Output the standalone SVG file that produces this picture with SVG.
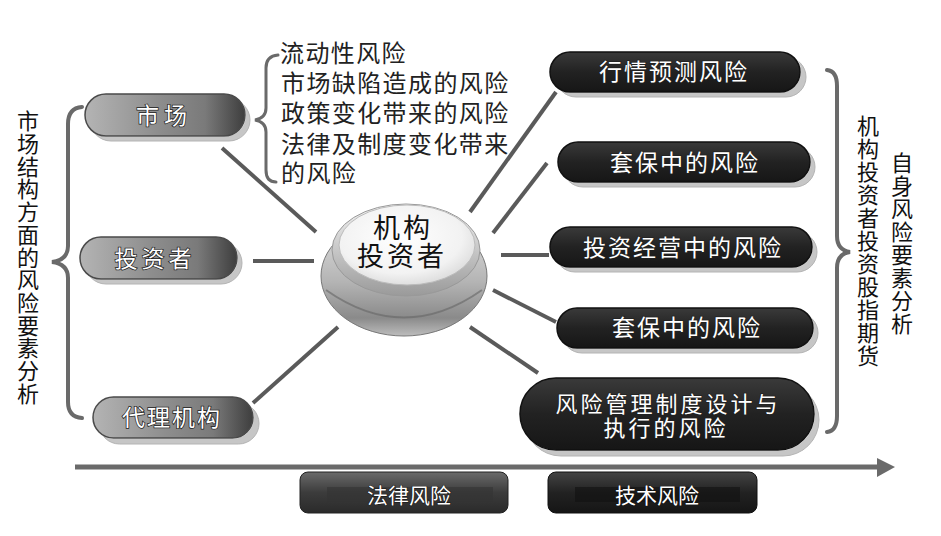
<svg xmlns="http://www.w3.org/2000/svg" width="941" height="536" viewBox="0 0 941 536">
<defs>
<linearGradient id="gLeft" x1="0" y1="0" x2="1" y2="0">
<stop offset="0" stop-color="#b4b4b4"/><stop offset="0.45" stop-color="#8e8e8e"/><stop offset="0.75" stop-color="#7a7a7a"/><stop offset="1" stop-color="#3e3e3e"/>
</linearGradient>
<linearGradient id="gRight" x1="0" y1="0" x2="0" y2="1">
<stop offset="0" stop-color="#3a3a3a"/><stop offset="0.5" stop-color="#222"/><stop offset="1" stop-color="#161616"/>
</linearGradient>
<linearGradient id="gBox1" x1="0" y1="0" x2="0" y2="1">
<stop offset="0" stop-color="#6a6a6a"/><stop offset="0.5" stop-color="#3c3c3c"/><stop offset="1" stop-color="#2a2a2a"/>
</linearGradient>
<linearGradient id="gBox2" x1="0" y1="0" x2="0" y2="1">
<stop offset="0" stop-color="#444"/><stop offset="0.5" stop-color="#222"/><stop offset="1" stop-color="#151515"/>
</linearGradient>
<linearGradient id="gBase" x1="0" y1="0" x2="0" y2="1">
<stop offset="0" stop-color="#e4e4e4"/><stop offset="0.55" stop-color="#b4b4b4"/><stop offset="0.85" stop-color="#8a8a8a"/><stop offset="1" stop-color="#bdbdbd"/>
</linearGradient>
<linearGradient id="gRim" x1="0" y1="0" x2="0" y2="1">
<stop offset="0" stop-color="#f4f4f4"/><stop offset="1" stop-color="#9a9a9a"/>
</linearGradient>
<radialGradient id="gTop" cx="0.45" cy="0.4" r="0.65">
<stop offset="0" stop-color="#ffffff"/><stop offset="0.7" stop-color="#f2f2f2"/><stop offset="1" stop-color="#d8d8d8"/>
</radialGradient>
</defs>
<style>
.conn{stroke:#5a5a5a;stroke-width:4;fill:none;stroke-linecap:butt}
.brace{stroke:#6a6a6a;stroke-width:4;fill:none;stroke-linecap:round}
.shadow{fill:#c6c6c6;stroke:#b4b4b4;stroke-width:1}
.lpill{fill:url(#gLeft);stroke:#4a4a4a;stroke-width:1.5}
.rpill{fill:url(#gRight);stroke:#111;stroke-width:1.5}
.gap{fill:#fff}
.pt{font-family:"Noto Sans CJK SC","Noto Sans",sans-serif;font-size:23px;fill:#fff;stroke:#222;stroke-width:1.5;paint-order:stroke;text-anchor:middle;letter-spacing:2px}
.bt{font-family:"Noto Sans CJK SC","Noto Sans",sans-serif;font-size:21px;fill:#fff;stroke:#111;stroke-width:1;paint-order:stroke;text-anchor:middle}
.vt{font-family:"Noto Sans CJK SC","Noto Sans",sans-serif;font-size:22px;fill:#111;writing-mode:vertical-rl}
.lt{font-family:"Noto Sans CJK SC","Noto Sans",sans-serif;font-size:24px;fill:#222;letter-spacing:1.4px}
.ct{font-family:"Noto Sans CJK SC","Noto Sans",sans-serif;font-size:27px;fill:#111;text-anchor:middle;letter-spacing:3px}
</style>

<rect width="941" height="536" fill="#fff"/>

<g id="connectors">
<line class="conn" x1="222" y1="148" x2="316" y2="232"/>
<line class="conn" x1="253" y1="261" x2="314" y2="261"/>
<line class="conn" x1="253" y1="403" x2="338" y2="327"/>
<line class="conn" x1="470" y1="212" x2="556" y2="92"/>
<line class="conn" x1="493" y1="233" x2="547" y2="163"/>
<line class="conn" x1="501" y1="255" x2="549" y2="255"/>
<line class="conn" x1="493" y1="290" x2="556" y2="322"/>
<line class="conn" x1="470" y1="327" x2="538" y2="373"/>
<path class="brace" d="M82,107 Q68,108 68,124 L68,246 Q68,260 52,262 Q68,264 68,278 L68,402 Q68,417 82,418"/>
<path class="brace" d="M278,55 Q266,56 266,68 L266,108 Q266,118 255,120 Q266,122 266,132 L266,170 Q266,182 276,182" style="stroke-width:3"/>
<path class="brace" d="M827,70 Q837,71 837,86 L837,236 Q837,250 850,252 Q837,254 837,268 L837,416 Q837,431 827,432"/>
<line x1="75" y1="467" x2="878" y2="467" stroke="#6a6a6a" stroke-width="5"/>
<polygon points="877,458 895,467 877,477" fill="#6a6a6a"/>
</g>

<g id="label-left">
<text class="vt" x="28" y="110" style="letter-spacing:0.7px">市场结构方面的风险要素分析</text>
</g>
<g id="label-right1">
<text class="vt" x="868" y="115" style="letter-spacing:1px">机构投资者投资股指期货</text>
</g>
<g id="label-right2">
<text class="vt" x="902" y="152" style="letter-spacing:1px">自身风险要素分析</text>
</g>

<g id="market-risks">
<text class="lt" x="280" y="62">流动性风险</text>
<text class="lt" x="281" y="92">市场缺陷造成的风险</text>
<text class="lt" x="281" y="122">政策变化带来的风险</text>
<text class="lt" x="281" y="153">法律及制度变化带来</text>
<text class="lt" x="281" y="182">的风险</text>
</g>

<g id="node-market">
<rect class="shadow" x="90" y="99" width="160" height="42" rx="21"/>
<rect class="gap" x="84" y="93" width="162" height="44" rx="22"/>
<rect class="lpill" x="85" y="94" width="160" height="42" rx="21"/>
<text class="pt" x="164" y="124" style="letter-spacing:5px">市场</text>
</g>
<g id="node-investor">
<rect class="shadow" x="85" y="242" width="157" height="42" rx="21"/>
<rect class="gap" x="79" y="236" width="159" height="44" rx="22"/>
<rect class="lpill" x="80" y="237" width="157" height="42" rx="21"/>
<text class="pt" x="155" y="267" style="letter-spacing:4px">投资者</text>
</g>
<g id="node-agent">
<rect class="shadow" x="99" y="403" width="160" height="41" rx="20.5"/>
<rect class="gap" x="92" y="396" width="162" height="43" rx="21.5"/>
<rect class="lpill" x="93" y="397" width="160" height="41" rx="20.5"/>
<text class="pt" x="172" y="426" style="letter-spacing:2px">代理机构</text>
</g>

<g id="node-center">
<ellipse cx="404" cy="276" rx="83" ry="60" fill="url(#gBase)" stroke="#777" stroke-width="1"/>
<path d="M326,290 Q404,345 482,290" fill="none" stroke="#666" stroke-width="2" opacity="0.6"/>
<ellipse cx="406" cy="250" rx="74" ry="46" fill="url(#gRim)" stroke="#999" stroke-width="1"/>
<ellipse cx="407" cy="245" rx="68" ry="40" fill="url(#gTop)" stroke="#bbb" stroke-width="1"/>
<text class="ct" x="403" y="238">机构</text>
<text class="ct" x="402" y="266">投资者</text>
</g>

<g id="node-r1">
<rect class="shadow" x="556" y="57" width="250" height="40" rx="20"/>
<rect class="gap" x="549" y="50" width="252" height="43" rx="21.5"/>
<rect class="rpill" x="550" y="52" width="250" height="40" rx="20"/>
<text class="pt" x="674" y="80">行情预测风险</text>
</g>
<g id="node-r2">
<rect class="shadow" x="563" y="147" width="252" height="40" rx="20"/>
<rect class="gap" x="557" y="141" width="254" height="42" rx="21"/>
<rect class="rpill" x="558" y="142" width="252" height="40" rx="20"/>
<text class="pt" x="685" y="171">套保中的风险</text>
</g>
<g id="node-r3">
<rect class="shadow" x="555" y="232" width="262" height="40" rx="20"/>
<rect class="gap" x="549" y="226" width="264" height="42" rx="21"/>
<rect class="rpill" x="550" y="227" width="262" height="40" rx="20"/>
<text class="pt" x="683" y="256">投资经营中的风险</text>
</g>
<g id="node-r4">
<rect class="shadow" x="562" y="313" width="256" height="40" rx="20"/>
<rect class="gap" x="556" y="307" width="258" height="42" rx="21"/>
<rect class="rpill" x="557" y="308" width="256" height="40" rx="20"/>
<text class="pt" x="687" y="336">套保中的风险</text>
</g>
<g id="node-r5">
<rect class="shadow" x="525" y="384" width="294" height="72" rx="36"/>
<rect class="gap" x="519" y="377" width="296" height="74" rx="37"/>
<rect class="rpill" x="520" y="378" width="294" height="72" rx="36"/>
<text class="pt" x="668" y="412" style="font-size:22px;letter-spacing:3px">风险管理制度设计与</text>
<text class="pt" x="666" y="436" style="font-size:22px;letter-spacing:3px">执行的风险</text>
</g>

<g id="node-legal">
<rect x="300" y="472" width="208" height="41" rx="8" fill="url(#gBox1)" stroke="#222" stroke-width="1"/>
<rect x="327" y="487" width="166" height="15" fill="#333" opacity="0.6"/>
<text class="bt" x="409" y="503">法律风险</text>
</g>
<g id="node-tech">
<rect x="548" y="472" width="209" height="41" rx="8" fill="url(#gBox2)" stroke="#111" stroke-width="1"/>
<rect x="575" y="487" width="165" height="15" fill="#111" opacity="0.6"/>
<text class="bt" x="657" y="503">技术风险</text>
</g>
</svg>
